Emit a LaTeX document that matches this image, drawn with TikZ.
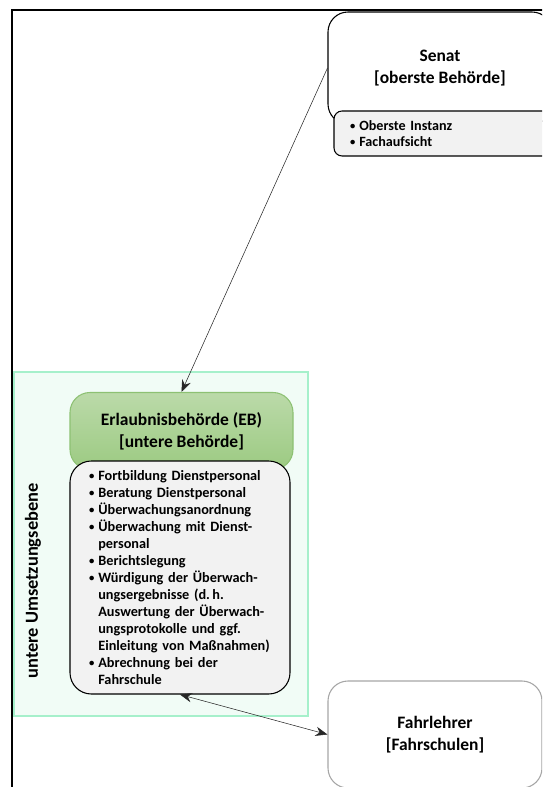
\documentclass[tikz,border=0pt]{standalone}
\usepackage{fontspec}
\usepackage{graphicx}
\setmainfont{Carlito}
\usetikzlibrary{arrows.meta}

\definecolor{mintfill}{HTML}{F1FCF6}
\definecolor{mintline}{HTML}{A6F0CB}
\definecolor{ebtop}{HTML}{BBDAA9}
\definecolor{ebbot}{HTML}{9CCA82}
\definecolor{ebline}{HTML}{8DC173}
\definecolor{boxgray}{HTML}{F2F2F2}
\definecolor{edgegray}{HTML}{A6A6A6}

\newcommand{\itm}{\makebox[7pt][l]{\raisebox{0.15ex}{\scalebox{0.75}{\textbullet}}}}
\newcommand{\cnt}{\hspace*{7pt}}
\newcommand{\nohyph}{\hyphenpenalty 10000\relax}

\begin{document}
\begin{tikzpicture}[x=0.75pt, y=-0.75pt]
\tikzstyle{vertexw}=[rectangle, rounded corners=15pt, draw=black, fill=white, thick, align=center, font=\bfseries\fontsize{13.1}{16.5}\selectfont]
\tikzstyle{vertexl}=[rectangle, rounded corners=6pt, draw=black, fill=boxgray, thick, align=left, font=\bfseries\fontsize{10.6}{12}\selectfont\nohyph]
\tikzstyle{drawstyle}=[thin, black!85, -{Stealth[length=9pt, width=7pt, inset=3pt]}]

\useasboundingbox (0,0) rectangle (542,787);
\clip (0,0) rectangle (542,787);

% frame
\draw[line width=1.6pt] (12,790) -- (12,10) -- (545,10);

% lower level
\node[rectangle, draw=mintline, fill=mintfill, thick, minimum width=294*0.75pt, minimum height=344*0.75pt] (lower) at (161,544) {};
\node[rotate=90, font=\bfseries\fontsize{13.8}{16}\selectfont] (lowerlabel) at (33,581) {untere Umsetzungsebene};

% Senat
\node[vertexw, minimum width=224*0.75pt, minimum height=112*0.75pt] (senat) at (440,68) {Senat\\{}[oberste Behörde]};
\node[vertexl, minimum width=218*0.75pt, minimum height=45*0.75pt, text width=186*0.75pt, inner xsep=16*0.75pt] (senatlist) at (443,133.5)
  {\itm Oberste Instanz\\ \itm Fachaufsicht};

% Erlaubnisbehoerde
\node[vertexw, draw=ebline, top color=ebtop, bottom color=ebbot, minimum width=223*0.75pt, minimum height=77*0.75pt] (eb) at (181.5,431) {Erlaubnisbehörde (EB)\\{}[untere Behörde]};
\node[vertexl, rounded corners=16pt, minimum width=220*0.75pt, minimum height=233*0.75pt, text width=182*0.75pt, inner xsep=19*0.75pt, font=\bfseries\fontsize{10.7}{12.8}\selectfont\nohyph] (eblist) at (180,577.5)
  {\itm Fortbildung Dienstpersonal\\
   \itm Beratung Dienstpersonal\\
   \itm Überwachungsanordnung\\
   \itm Überwachung mit Dienst-\\
   \cnt personal\\
   \itm Berichtslegung\\
   \itm Würdigung der Überwach-\\
   \cnt ungsergebnisse (d.\,h.\\
   \cnt Auswertung der Überwach-\\
   \cnt ungsprotokolle und ggf.\\
   \cnt Einleitung von Maßnahmen)\\
   \itm Abrechnung bei der\\
   \cnt Fahrschule};

% Fahrlehrer
\node[vertexw, draw=edgegray, minimum width=214*0.75pt, minimum height=107*0.75pt] (fahr) at (435,734.5) {Fahrlehrer\\{}[Fahrschulen]};

\draw[drawstyle] (senat.west) -- (eb.north);
\draw[drawstyle, {Stealth[length=9pt, width=7pt, inset=3pt]}-{Stealth[length=9pt, width=7pt, inset=3pt]}] (eblist.south) -- (fahr.west);
\end{tikzpicture}
\end{document}
